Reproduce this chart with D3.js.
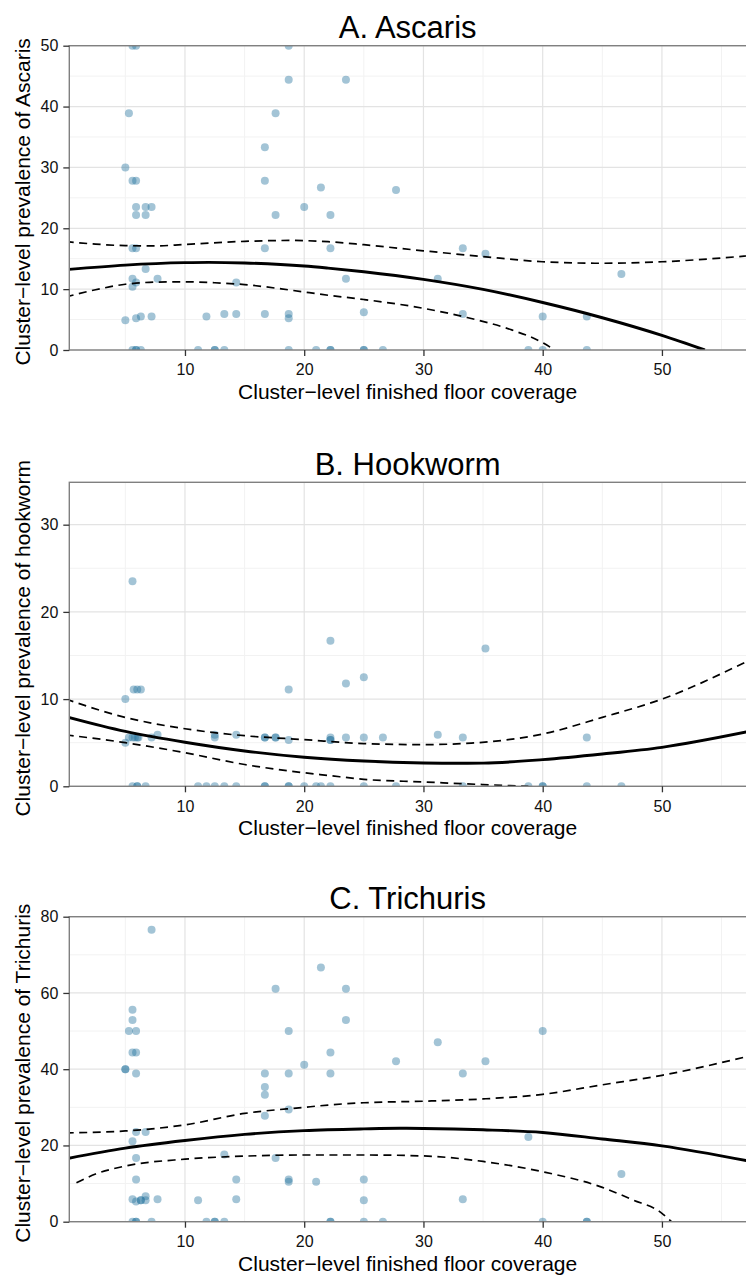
<!DOCTYPE html>
<html>
<head>
<meta charset="utf-8">
<script src="https://cdn.jsdelivr.net/npm/d3@7"></script>
<style>
  body { margin: 0; background: #fff; }
  text { font-family: "Liberation Sans", Arial, Helvetica, sans-serif; }
</style>
</head>
<body>
<svg id="chart" width="746" height="1275"></svg>
<script>
// x axis: cluster-level finished floor coverage
const xTicks = [10, 20, 30, 40, 50];
const xMinor = [5, 15, 25, 35, 45, 55];

// panel titles and y labels
const titles = ["A. Ascaris", "B. Hookworm", "C. Trichuris"];
const yLabels = ["Cluster\u2212level prevalence of Ascaris",
                 "Cluster\u2212level prevalence of hookworm",
                 "Cluster\u2212level prevalence of Trichuris"];
const yTicksA = [0, 10, 20, 30, 40, 50];
const yTicksB = [0, 10, 20, 30];
const yTicksC = [0, 20, 40, 60, 80];

// observed clusters [floor coverage, prevalence]
const ascarisPts = [
  [0,42.2],[0,31.6],[0,27.8],[0,22.2],[0,16.6],[0,11.1],[0,5.5],
  [5.6,50],[5.9,50],[18.7,50],[18.7,44.4],[23.5,44.4],
  [5.3,38.9],[17.6,38.9],[16.7,33.3],[5.0,30.0],
  [5.6,27.8],[5.9,27.8],[16.7,27.8],[21.4,26.7],[27.7,26.3],
  [5.9,23.5],[6.7,23.5],[7.2,23.5],[20.0,23.5],
  [5.9,22.2],[6.7,22.2],[17.6,22.2],[22.2,22.2],
  [5.6,16.7],[5.9,16.7],[16.7,16.7],[22.2,16.7],[33.3,16.7],[35.2,15.8],
  [6.7,13.3],[46.6,12.5],
  [5.6,11.7],[7.7,11.7],[23.5,11.7],[31.2,11.7],
  [5.9,11.1],[14.3,11.1],[5.6,10.4],
  [25.0,6.2],[13.3,5.9],[14.3,5.9],[16.7,5.9],[18.7,5.9],[33.3,5.9],
  [6.3,5.5],[7.2,5.5],[11.8,5.5],[40.0,5.5],[43.7,5.5],
  [5.9,5.2],[18.7,5.2],[5.0,4.9],
  [5.6,0],[5.9,0],[5.9,0],[6.3,0],[11.1,0],[12.5,0],[12.5,0],[13.3,0],
  [18.7,0],[21.0,0],[22.2,0],[22.2,0],[25.0,0],[25.0,0],[26.6,0],
  [38.8,0],[40.0,0],[43.7,0]
];
const hookwormPts = [
  [0,22.2],[0,16.7],[0,11.1],[0,5.9],
  [5.6,23.5],[22.2,16.7],[35.2,15.8],[25.0,12.5],[23.5,11.8],
  [5.7,11.1],[6.0,11.1],[6.3,11.1],[18.7,11.1],[5.0,10.0],
  [7.7,5.9],[12.5,5.9],[14.3,5.9],[31.2,5.9],
  [5.3,5.6],[5.6,5.6],[5.8,5.6],[6.0,5.6],[6.1,5.6],
  [7.2,5.6],[12.5,5.6],[16.7,5.6],[16.7,5.6],[17.6,5.6],[17.6,5.6],
  [22.2,5.6],[22.2,5.3],[22.2,5.3],[23.5,5.6],[25.0,5.6],[26.6,5.6],
  [33.3,5.6],[43.7,5.6],[18.7,5.3],[5.0,5.0],
  [5.6,0],[6.0,0],[6.0,0],[6.7,0],[11.1,0],[11.8,0],[12.5,0],[13.3,0],
  [14.3,0],[16.7,0],[16.7,0],[18.7,0],[18.7,0],[20.0,0],[21.0,0],[21.4,0],
  [22.2,0],[25.0,0],[27.7,0],[33.3,0],[38.8,0],[40.0,0],[40.0,0],[43.7,0],[46.6,0]
];
const trichurisPts = [
  [0,50],[0,44.4],[0,36.8],[0,33.3],[0,29.4],[0,27.8],[0,11.1],[0,5.6],
  [7.2,76.6],[21.4,66.7],[17.6,61.1],[23.5,61.1],
  [5.6,55.6],[5.6,52.9],[23.5,52.9],
  [5.3,50.0],[5.9,50.0],[18.7,50.0],[40.0,50.0],[31.2,47.1],
  [5.6,44.4],[5.9,44.4],[22.2,44.4],[27.7,42.1],[35.2,42.1],[20.0,41.2],
  [5.0,40.0],[5.0,40.0],
  [5.9,38.9],[16.7,38.9],[18.7,38.9],[22.2,38.9],[33.3,38.9],
  [16.7,35.3],[16.7,33.3],[18.7,29.4],[16.7,27.8],
  [5.9,23.5],[6.7,23.5],[38.8,22.2],[5.6,21.1],
  [13.3,17.6],[5.9,16.7],[17.6,16.7],[46.6,12.5],
  [5.9,11.1],[14.3,11.1],[18.7,11.1],[25.0,11.1],[18.7,10.5],[21.0,10.5],
  [6.7,6.7],[5.6,5.9],[7.7,5.9],[14.3,5.9],[33.3,5.9],
  [5.9,5.3],[6.3,5.6],[6.3,5.6],[6.7,5.6],[11.1,5.6],[25.0,5.6],
  [5.6,0],[5.9,0],[5.9,0],[7.2,0],[11.8,0],[12.5,0],[12.5,0],[13.3,0],
  [22.2,0],[22.2,0],[25.0,0],[26.6,0],[40.0,0],[43.7,0],[43.7,0]
];

// fitted curve and confidence band
const ascarisFit = [[0,13.2],[5,13.95],[10,14.35],[12,14.4],[15,14.3],[20,13.8],[22,13.45],
  [25,12.85],[30,11.6],[35,9.95],[40,7.8],[45,5.3],[50,2.4],[53.6,0]];
const ascarisUpper = [[0,17.8],[2.5,17.4],[5,17.15],[7.5,17.1],[10,17.35],[15,17.85],[19,18.0],
  [22,17.8],[25,17.3],[30,16.3],[35,15.35],[40,14.5],[45,14.25],[50,14.5],[57.1,15.45]];
const ascarisLower = [[0,8.7],[2.5,9.9],[5,10.8],[7.5,11.15],[10,11.2],[12.5,11.05],[15,10.75],
  [19,9.8],[22,9.0],[25,8.3],[30,6.85],[33.3,5.5],[37.4,3.3],[40,1.2],[41,0]];

const hookwormFit = [[0,8.0],[5,6.3],[10,5.05],[15,4.05],[20,3.33],[25,2.9],[30,2.68],[33,2.64],
  [35,2.66],[40,3.06],[45,3.7],[50,4.47],[57.1,6.23]];
const hookwormUpper = [[0,10.0],[5,7.9],[10,6.6],[15,5.8],[20,5.35],[25,4.9],[30,4.78],[34,4.95],
  [40,6.0],[45,7.9],[50,10.0],[57.1,14.3]];
const hookwormLower = [[0,5.9],[5,5.0],[10,3.85],[15,2.5],[20,1.55],[22,1.25],[25,0.8],[30,0.5],
  [35,0.2],[38.8,0]];

const trichurisFit = [[0,16.5],[5,19.3],[10,21.3],[15,22.9],[20,23.9],[25,24.35],[28,24.5],[30,24.45],
  [35,24.1],[40,23.4],[45,21.7],[50,19.9],[57.1,16.0]];
const trichurisUpper = [[0,23.3],[5,23.8],[10,25.4],[15,28.4],[20,30.0],[22,30.6],[25,31.2],[30,31.6],
  [35,32.2],[40,33.4],[45,35.9],[50,38.4],[57.1,43.3]];
const trichurisLower = [[0.9,10.2],[2.5,12.5],[5,14.6],[10,16.4],[15,17.2],[20,17.5],[25,17.5],
  [30,17.25],[35,15.8],[40,13.1],[45,9.0],[47.5,5.8],[50,2.2],[50.8,0]];

const panels = [
  { title: titles[0], ylab: yLabels[0], top: 45.7, bottom: 350, ymax: 50, ticks: yTicksA, minor: [5,15,25,35,45],
    pts: ascarisPts, fit: ascarisFit, upper: ascarisUpper, lower: ascarisLower },
  { title: titles[1], ylab: yLabels[1], top: 482.3, bottom: 786.3, ymax: 34.86, ticks: yTicksB, minor: [5,15,25],
    pts: hookwormPts, fit: hookwormFit, upper: hookwormUpper, lower: hookwormLower },
  { title: titles[2], ylab: yLabels[2], top: 916.7, bottom: 1221.7, ymax: 80, ticks: yTicksC, minor: [10,30,50,70],
    pts: trichurisPts, fit: trichurisFit, upper: trichurisUpper, lower: trichurisLower }
];

const left = 69.3, right = 746;
const svg = d3.select("#chart");
const x = d3.scaleLinear().domain([0.3, 57.05]).range([left, right]);

panels.forEach(function(p, i) {
  const y = d3.scaleLinear().domain([0, p.ymax]).range([p.bottom, p.top]);
  const g = svg.append("g");

  g.append("clipPath").attr("id", "clip" + i)
    .append("rect").attr("x", left).attr("y", p.top).attr("width", right - left).attr("height", p.bottom - p.top);

  // grid
  g.selectAll(".hminor").data(p.minor).enter().append("line")
    .attr("x1", left).attr("x2", right).attr("y1", d => y(d)).attr("y2", d => y(d))
    .attr("stroke", "#f2f2f2").attr("stroke-width", 1);
  g.selectAll(".vminor").data(xMinor).enter().append("line")
    .attr("x1", d => x(d)).attr("x2", d => x(d)).attr("y1", p.top).attr("y2", p.bottom)
    .attr("stroke", "#f2f2f2").attr("stroke-width", 1);
  g.selectAll(".hmajor").data(p.ticks).enter().append("line")
    .attr("x1", left).attr("x2", right).attr("y1", d => y(d)).attr("y2", d => y(d))
    .attr("stroke", "#e3e3e3").attr("stroke-width", 1.2);
  g.selectAll(".vmajor").data(xTicks).enter().append("line")
    .attr("x1", d => x(d)).attr("x2", d => x(d)).attr("y1", p.top).attr("y2", p.bottom)
    .attr("stroke", "#e3e3e3").attr("stroke-width", 1.2);

  const plot = g.append("g").attr("clip-path", "url(#clip" + i + ")");

  plot.selectAll("circle").data(p.pts).enter().append("circle")
    .attr("cx", d => x(d[0])).attr("cy", d => y(d[1])).attr("r", 4)
    .attr("fill", "#23739e").attr("fill-opacity", 0.42);

  const line = d3.line().x(d => x(d[0])).y(d => y(d[1])).curve(d3.curveMonotoneX);
  [p.upper, p.lower].forEach(function(band) {
    plot.append("path").attr("d", line(band)).attr("fill", "none")
      .attr("stroke", "#000").attr("stroke-width", 1.7).attr("stroke-dasharray", "8,5.5");
  });
  plot.append("path").attr("d", line(p.fit)).attr("fill", "none")
    .attr("stroke", "#000").attr("stroke-width", 2.9);

  // border
  g.append("rect").attr("x", left).attr("y", p.top).attr("width", right - left + 10).attr("height", p.bottom - p.top)
    .attr("fill", "none").attr("stroke", "#808080").attr("stroke-width", 1.4);

  // axes
  const ya = g.append("g").attr("transform", "translate(" + left + ",0)")
    .call(d3.axisLeft(y).tickValues(p.ticks).tickSize(6).tickPadding(5));
  const xa = g.append("g").attr("transform", "translate(0," + p.bottom + ")")
    .call(d3.axisBottom(x).tickValues(xTicks).tickSize(6).tickPadding(8));
  [ya, xa].forEach(function(a) {
    a.select(".domain").remove();
    a.selectAll(".tick line").attr("stroke", "#333").attr("stroke-width", 1.3);
    a.selectAll(".tick text").attr("fill", "#111").style("font-size", "16px")
      .style("font-family", "'Liberation Sans', Arial, sans-serif");
  });

  g.append("text").attr("x", (left + right) / 2).attr("y", p.top - 7.5)
    .attr("text-anchor", "middle").style("font-size", "31px").text(p.title);
  g.append("text").attr("x", (left + right) / 2).attr("y", p.bottom + 49)
    .attr("text-anchor", "middle").style("font-size", "21px").text("Cluster\u2212level finished floor coverage");
  g.append("text").attr("transform", "translate(30," + ((p.top + p.bottom) / 2 + 4) + ") rotate(-90)")
    .attr("text-anchor", "middle").style("font-size", "21px").text(p.ylab);
});
</script>
</body>
</html>
